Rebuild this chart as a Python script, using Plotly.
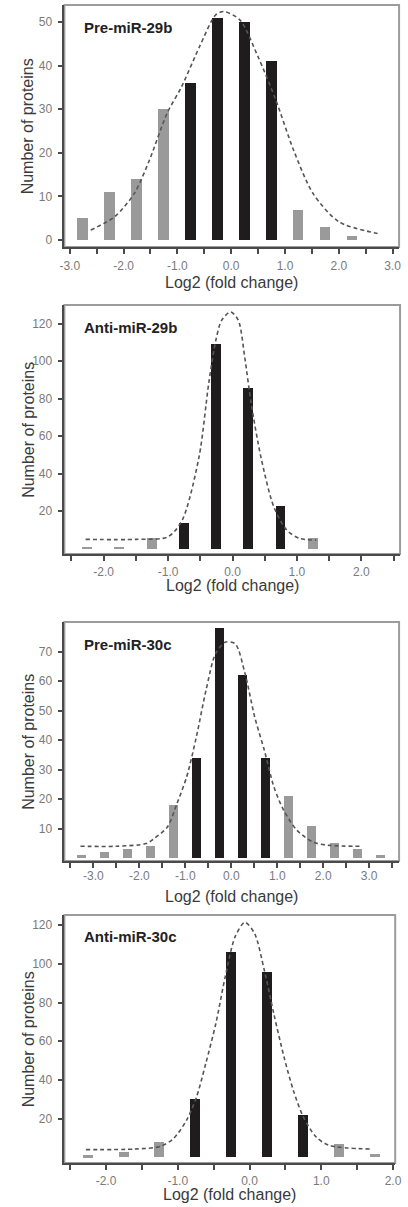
import plotly.graph_objects as go

# ---------------- data ----------------
bins_29b_pre = [-2.75, -2.25, -1.75, -1.25, -0.75, -0.25, 0.25, 0.75, 1.25, 1.75, 2.25]
counts_29b_pre = [5, 11, 14, 30, 36, 51, 50, 41, 7, 3, 1]
fit_x_29b_pre = [-2.61, -2.16, -1.80, -1.52, -1.19, -0.92, -0.59, -0.29, -0.14, 0.16, 0.50, 0.83, 1.16, 1.52, 2.00, 2.72]
fit_y_29b_pre = [2.3, 5.4, 10.7, 18.3, 29.1, 35.2, 44.3, 51.6, 52.4, 50.5, 42.0, 32.1, 20.6, 10.7, 4.2, 1.5]

bins_29b_anti = [-2.25, -1.75, -1.25, -0.75, -0.25, 0.25, 0.75, 1.25]
counts_29b_anti = [1, 1, 6, 14, 109, 86, 23, 6]
fit_x_29b_anti = [-2.28, -1.5, -1.0, -0.78, -0.52, -0.37, -0.26, -0.17, -0.03, 0.09, 0.19, 0.29, 0.44, 0.64, 0.84, 1.04, 1.30]
fit_y_29b_anti = [5.0, 5.0, 6.4, 15.3, 49, 88, 111, 121.8, 126.3, 121.8, 102, 77.4, 49, 22.4, 10, 5.5, 4.6]

bins_30c_pre = [-3.25, -2.75, -2.25, -1.75, -1.25, -0.75, -0.25, 0.25, 0.75, 1.25, 1.75, 2.25, 2.75, 3.25]
counts_30c_pre = [1, 2, 3, 4, 18, 34, 78, 62, 34, 21, 11, 5, 3, 1]
fit_x_30c_pre = [-3.28, -2.5, -1.85, -1.68, -1.39, -1.18, -0.97, -0.76, -0.55, -0.34, -0.125, 0.087, 0.30, 0.51, 0.72, 0.93, 1.14, 1.43, 1.78, 2.13, 2.86]
fit_y_30c_pre = [4.0, 4.0, 4.9, 6.6, 10.5, 18.5, 27.5, 41, 56.8, 69.3, 73.2, 72.6, 62.5, 47.8, 36.5, 24, 16.2, 9.4, 5.4, 4.3, 4.0]

bins_30c_anti = [-2.25, -1.75, -1.25, -0.75, -0.25, 0.25, 0.75, 1.25, 1.75]
counts_30c_anti = [1, 3, 8, 30, 106, 96, 22, 7, 2]
fit_x_30c_anti = [-2.28, -1.6, -1.24, -1.06, -0.88, -0.74, -0.61, -0.47, -0.34, -0.2, -0.065, 0.07, 0.206, 0.34, 0.48, 0.61, 0.75, 0.93, 1.11, 1.70]
fit_y_30c_anti = [4.0, 4.3, 5.7, 9.7, 19, 31, 48.4, 69, 93, 114, 121.4, 115.7, 96.7, 74, 52, 34.7, 20.9, 10.5, 6.2, 4.3]

panel_titles = ["Pre-miR-29b", "Anti-miR-29b", "Pre-miR-30c", "Anti-miR-30c"]
y_ticks = [[0, 10, 20, 30, 40, 50], [20, 40, 60, 80, 100, 120],
           [10, 20, 30, 40, 50, 60, 70], [20, 40, 60, 80, 100, 120]]
x_label_values = [[-3, -2, -1, 0, 1, 2, 3], [-2, -1, 0, 1, 2],
                  [-3, -2, -1, 0, 1, 2, 3], [-2, -1, 0, 1, 2]]

# ---------------- layout constants ----------------
W, H = 408, 1207
panels = [
    dict(bins=bins_29b_pre, counts=counts_29b_pre, fx=fit_x_29b_pre, fy=fit_y_29b_pre,
         top=5, bottom=247, left=61, right=405, xr=[-3.10, 3.12], yr=[-1.6, 53.9], bw=0.2,
         minor=[-3.0, 3.0], lab_off=2, title_off=35),
    dict(bins=bins_29b_anti, counts=counts_29b_anti, fx=fit_x_29b_anti, fy=fit_y_29b_anti,
         top=305, bottom=554, left=61, right=406, xr=[-2.61, 2.60], yr=[-2.8, 130], bw=0.155,
         minor=[-2.5, 2.5], lab_off=1, title_off=31),
    dict(bins=bins_30c_pre, counts=counts_30c_pre, fx=fit_x_30c_pre, fy=fit_y_30c_pre,
         top=622, bottom=861, left=61, right=405, xr=[-3.63, 3.65], yr=[-1.0, 80], bw=0.2,
         minor=[-3.5, 3.5], lab_off=-2, title_off=35),
    dict(bins=bins_30c_anti, counts=counts_30c_anti, fx=fit_x_30c_anti, fy=fit_y_30c_anti,
         top=915, bottom=1163, left=61, right=401, xr=[-2.58, 2.03], yr=[-2.9, 125.2], bw=0.14,
         minor=[-2.5, 2.0], lab_off=1, title_off=31),
]

GRAY_BAR = "#9a9a9a"
BLACK_BAR = "#1e1c1d"
AXIS_COL = "#4a4a4a"
FRAME_COL = "#9c9c9c"
TICKFONT = dict(family="Liberation Sans, Arial, sans-serif", size=12, color="#7a7a7a")
TITLEFONT = dict(family="Liberation Sans, Arial, sans-serif", size=16, color="#3a3a3a")

fig = go.Figure()
annotations = []
shapes = []
layout_axes = {}

for i, p in enumerate(panels):
    n = i + 1
    xa = "x" if n == 1 else f"x{n}"
    ya = "y" if n == 1 else f"y{n}"
    colors = [BLACK_BAR if abs(b) < 1 else GRAY_BAR for b in p["bins"]]
    fig.add_trace(go.Bar(x=p["bins"], y=p["counts"], width=p["bw"],
                         marker=dict(color=colors, line=dict(width=0)),
                         xaxis=xa, yaxis=ya, showlegend=False))
    fig.add_trace(go.Scatter(x=p["fx"], y=p["fy"], mode="lines",
                             line=dict(color="#555555", width=1.6, dash="4px,3px",
                                       shape="spline", smoothing=0.8),
                             xaxis=xa, yaxis=ya, showlegend=False))

    # ticks every 0.5, labels only on integers
    lo, hi = p["minor"]
    tv, tt = [], []
    k = lo
    while k <= hi + 1e-9:
        tv.append(round(k, 2))
        tt.append(f"{k:.1f}" if abs(k - round(k)) < 1e-9 and round(k) in x_label_values[i] else "")
        k += 0.5

    xdom = [p["left"] / W, p["right"] / W]
    ydom = [1 - p["bottom"] / H, 1 - p["top"] / H]
    xkey = "xaxis" if n == 1 else f"xaxis{n}"
    ykey = "yaxis" if n == 1 else f"yaxis{n}"
    layout_axes[xkey] = dict(domain=xdom, range=p["xr"], anchor=ya, tickmode="array",
                             tickvals=tv, ticktext=tt, ticks="outside", ticklen=5,
                             tickwidth=1.5, tickcolor=AXIS_COL, showline=True,
                             linecolor=AXIS_COL, linewidth=1.5, showgrid=False,
                             zeroline=False, tickfont=TICKFONT, fixedrange=True,
                             ticklabelstandoff=p["lab_off"])
    layout_axes[ykey] = dict(domain=ydom, range=p["yr"], anchor=xa, tickmode="array",
                             tickvals=y_ticks[i], ticks="outside", ticklen=5,
                             tickwidth=1.5, tickcolor=AXIS_COL, showline=True,
                             linecolor=AXIS_COL, linewidth=1.5, showgrid=False,
                             zeroline=False, tickfont=TICKFONT, fixedrange=True,
                             ticklabelstandoff=3)

    # light frame around the plot area
    shapes.append(dict(type="rect", xref="paper", yref="paper",
                       x0=xdom[0], x1=xdom[1], y0=ydom[0], y1=ydom[1],
                       line=dict(color=FRAME_COL, width=2), layer="below"))

    # panel label
    annotations.append(dict(text=f"<b>{panel_titles[i]}</b>", xref="paper", yref="paper",
                            x=79 / W, y=1 - (p["top"] + 22) / H, xanchor="left", yanchor="middle",
                            showarrow=False,
                            font=dict(family="Liberation Sans, Arial, sans-serif", size=15, color="#222222")))
    # axis titles
    annotations.append(dict(text="Number of proteins", xref="paper", yref="paper",
                            x=24 / W, y=(ydom[0] + ydom[1]) / 2, textangle=-90,
                            xanchor="center", yanchor="middle", showarrow=False, font=TITLEFONT))
    annotations.append(dict(text="Log2 (fold change)", xref="paper", yref="paper",
                            x=(xdom[0] + xdom[1]) / 2, y=1 - (p["bottom"] + p["title_off"]) / H,
                            xanchor="center", yanchor="middle", showarrow=False, font=TITLEFONT))

fig.update_layout(width=W, height=H, margin=dict(l=0, r=0, t=0, b=0),
                  paper_bgcolor="white", plot_bgcolor="white", bargap=0,
                  annotations=annotations, shapes=shapes, **layout_axes)

fig.write_html("out.html")
